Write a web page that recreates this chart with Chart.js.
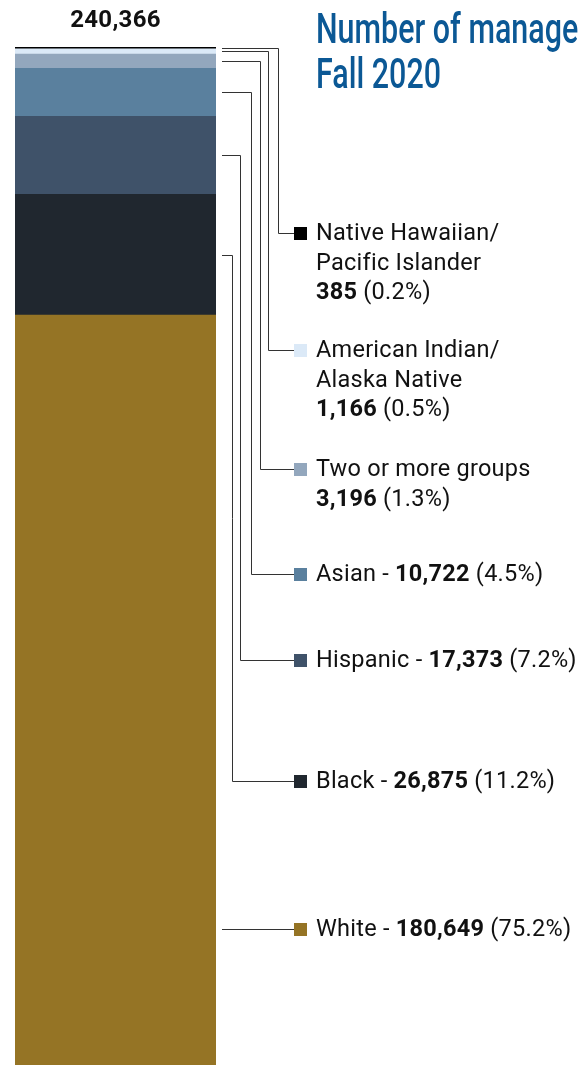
<!DOCTYPE html>
<html><head><meta charset="utf-8">
<script src="https://cdn.jsdelivr.net/npm/chart.js@4"></script>
<style>
html,body{margin:0;padding:0;overflow:hidden;background:#fff;width:586px;height:1065px}
#wrap{position:relative;width:586px;height:1065px;overflow:hidden}
canvas{display:block}
</style>
</head><body><div id="wrap"><canvas id="c" width="586" height="1126"></canvas></div>
<script>
// ---- data (top of stack first) ----
const categories = ["Native Hawaiian/\nPacific Islander", "American Indian/\nAlaska Native", "Two or more groups", "Asian", "Hispanic", "Black", "White"];
const values = [385, 1166, 3196, 10722, 17373, 26875, 180649];
const valueLabels = ["385", "1,166", "3,196", "10,722", "17,373", "26,875", "180,649"];
const percentLabels = ["(0.2%)", "(0.5%)", "(1.3%)", "(4.5%)", "(7.2%)", "(11.2%)", "(75.2%)"];
const totalLabel = "240,366";
const titleLines = ["Number of manage", "Fall 2020"];

// ---- styles ----
const colors = ["#000000", "#dbe9f7", "#93a7bd", "#5a809e", "#3f5269", "#20272f", "#957425"];
const valueOnNewLine = [true, true, true, false, false, false, false];
const legendY = [233, 350, 469, 574, 660, 781, 929];
const elbowX = [278, 268, 260, 251, 240, 232, null];
const markerLeft = 294, markerSize = 13, textX = 316, lineH = 29.5;
const legendFont = '23.5px Roboto';

const total = values.reduce((a, b) => a + b, 0);

const annot = {
  id: 'annot',
  afterDraw(chart) {
    const ctx = chart.ctx;
    const n = values.length;
    ctx.save();
    // total label
    const b0 = chart.getDatasetMeta(n - 1).data[0];
    ctx.font = 'bold 24px Roboto';
    ctx.letterSpacing = '0.3px';
    ctx.fillStyle = '#111';
    ctx.textAlign = 'center';
    ctx.textBaseline = 'alphabetic';
    ctx.fillText(totalLabel, b0.x, 27);
    ctx.textAlign = 'left';

    // title
    ctx.save();
    ctx.letterSpacing = '0px';
    ctx.font = '500 42px Roboto';
    ctx.fillStyle = '#0b5895';
    ctx.translate(316, 0);
    ctx.scale(0.725, 1);
    ctx.fillText(titleLines[0], 0, 43);
    ctx.fillText(titleLines[1], 0, 88);
    ctx.restore();

    // connectors + legend
    for (let i = 0; i < n; i++) {
      const bar = chart.getDatasetMeta(n - 1 - i).data[0];
      const top = Math.min(bar.y, bar.base), bot = Math.max(bar.y, bar.base);
      const right = bar.x + bar.width / 2;
      const sx = Math.round(right + 6);
      const ly = legendY[i];
      const mid = (top + bot) / 2;
      ctx.strokeStyle = '#333';
      ctx.lineWidth = 1;
      ctx.beginPath();
      if (ly >= top && ly <= bot || elbowX[i] === null) {
        ctx.moveTo(sx, Math.round(ly) + 0.5);
        ctx.lineTo(markerLeft, Math.round(ly) + 0.5);
      } else {
        const my = Math.round(mid) + 0.5, vx = elbowX[i] + 0.5;
        ctx.moveTo(sx, my);
        ctx.lineTo(vx, my);
        ctx.lineTo(vx, Math.round(ly) + 0.5);
        ctx.lineTo(markerLeft, Math.round(ly) + 0.5);
      }
      ctx.stroke();
      // marker
      ctx.fillStyle = colors[i];
      ctx.fillRect(markerLeft, Math.round(ly - markerSize / 2), markerSize, markerSize);
      // text
      ctx.fillStyle = '#111';
      ctx.letterSpacing = '0.25px';
      const nameLines = categories[i].split('\n');
      let by = ly + 7;
      const seg = (parts, y) => {
        let x = textX;
        parts.forEach(([t, bold]) => {
          ctx.font = (bold ? 'bold ' : '') + legendFont;
          ctx.fillText(t, x, y);
          x += ctx.measureText(t).width;
        });
      };
      if (valueOnNewLine[i]) {
        nameLines.forEach(l => { seg([[l, false]], by); by += lineH; });
        seg([[valueLabels[i], true], [' ' + percentLabels[i], false]], by);
      } else {
        seg([[nameLines[0] + ' - ', false], [valueLabels[i], true], [' ' + percentLabels[i], false]], by);
      }
    }
    ctx.restore();
  }
};

function draw() {
  const order = [...values.keys()].reverse();
  new Chart(document.getElementById('c'), {
    type: 'bar',
    data: {
      labels: [''],
      datasets: order.map(i => ({
        label: categories[i], data: [values[i]], backgroundColor: colors[i],
        borderWidth: 0, barPercentage: 1, categoryPercentage: 1
      }))
    },
    options: {
      responsive: false, animation: false,
      layout: { padding: { left: 15, right: 370, top: 47, bottom: 0 } },
      scales: {
        x: { stacked: true, display: false },
        y: { stacked: true, display: false, min: 0, max: total }
      },
      plugins: { legend: { display: false }, tooltip: { enabled: false } }
    },
    plugins: [annot]
  });
}
Promise.all([document.fonts.load('23.5px Roboto'), document.fonts.load('bold 24px Roboto'), document.fonts.load('500 42px Roboto')]).then(draw, draw);
</script>
</body></html>
